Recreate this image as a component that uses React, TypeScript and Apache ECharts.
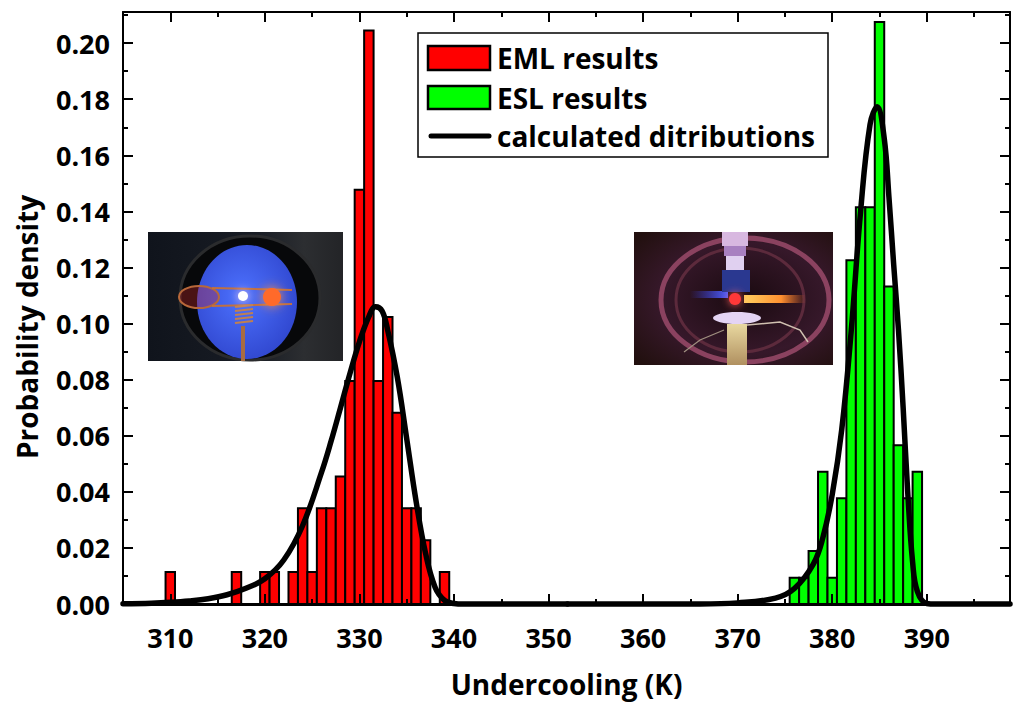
import React, { useEffect, useRef } from "react";
import * as echarts from "echarts";

// ---- axis ticks ----
const xTickValues = [310, 320, 330, 340, 350, 360, 370, 380, 390];
const xMinorTickValues = [315, 325, 335, 345, 355, 365, 375, 385, 395];
const yTickValues = [0, 0.02, 0.04, 0.06, 0.08, 0.1, 0.12, 0.14, 0.16, 0.18, 0.2];
const yMinorTickValues = [0.01, 0.03, 0.05, 0.07, 0.09, 0.11, 0.13, 0.15, 0.17, 0.19, 0.21];

// ---- EML histogram (bin centres, K) ----
const emlBins = [310, 317, 320, 321, 323, 324, 325, 326, 327, 328, 329, 330, 331, 332, 333, 334, 335, 336, 337, 339];
const emlDensity = [0.0114, 0.0114, 0.0114, 0.0114, 0.0114, 0.0341, 0.0114, 0.0341, 0.0341, 0.0455, 0.0795, 0.1477, 0.2045, 0.0795, 0.1023, 0.0682, 0.0341, 0.0341, 0.0227, 0.0114];

// ---- ESL histogram ----
const eslBins = [376, 377, 378, 379, 380, 381, 382, 383, 384, 385, 386, 387, 388, 389];
const eslDensity = [0.0094, 0.0094, 0.0189, 0.0472, 0.0094, 0.0377, 0.1226, 0.1415, 0.1415, 0.2075, 0.1132, 0.0566, 0.0377, 0.0472];

// ---- calculated distributions ----
const emlCurveX = [305, 308, 310, 312, 314, 316, 318, 320, 322, 324, 326, 327, 328, 329, 330, 331, 331.7, 332.4, 333, 334, 335, 336, 337, 338, 339, 340, 341, 352];
const emlCurveY = [0.0001, 0.0003, 0.0006, 0.0011, 0.0019, 0.0033, 0.0056, 0.009, 0.0157, 0.028, 0.047, 0.058, 0.07, 0.0822, 0.0935, 0.1025, 0.106, 0.1045, 0.0975, 0.081, 0.059, 0.0365, 0.018, 0.006, 0.0013, 0.0002, 0, 0];
const eslCurveX = [352, 366, 370, 374, 376, 378, 379, 380, 381, 382, 383, 384, 384.75, 385.5, 386, 386.5, 387, 387.5, 388, 388.5, 389, 390, 391, 398.8];
const eslCurveY = [0, 0, 0.0004, 0.0021, 0.0055, 0.0142, 0.0235, 0.039, 0.062, 0.097, 0.14, 0.171, 0.1773, 0.166, 0.145, 0.121, 0.098, 0.07, 0.039, 0.015, 0.0045, 0.0002, 0, 0];

const FONT = "'Open Sans', 'Noto Sans', sans-serif";

function barSeries(name: string, bins: number[], dens: number[], color: string) {
  return {
    name,
    type: "custom",
    z: 2,
    xAxisIndex: 0,
    yAxisIndex: 0,
    data: bins.map((b, i) => [b, dens[i]]),
    renderItem: (_p: any, api: any) => {
      const x = api.value(0);
      const y = api.value(1);
      const p0 = api.coord([x - 0.5, y]);
      const p1 = api.coord([x + 0.5, 0]);
      return {
        type: "rect",
        shape: { x: p0[0], y: p0[1], width: p1[0] - p0[0], height: p1[1] - p0[1] },
        style: { fill: color, stroke: "#000", lineWidth: 2 },
      };
    },
  };
}

function curveSeries(name: string, xs: number[], ys: number[]) {
  return {
    name,
    type: "line",
    z: 4,
    xAxisIndex: 0,
    yAxisIndex: 0,
    data: xs.map((x, i) => [x, ys[i]]),
    symbol: "none",
    smooth: 0.4,
    clip: false,
    lineStyle: { color: "#000", width: 5.5, cap: "round", join: "round" },
  };
}

function xAxisDef(pos: string, ticks: number[], len: number, line: boolean, labels: boolean, lw: number) {
  return {
    type: "value",
    position: pos,
    min: 305,
    max: 398.8,
    z: 3,
    axisLine: { show: line, onZero: false, lineStyle: { color: "#000", width: lw } },
    axisTick: { show: true, inside: true, length: len, customValues: ticks, lineStyle: { color: "#000", width: 2 } },
    axisLabel: labels
      ? { show: true, customValues: ticks, margin: 20, color: "#000", fontSize: 27, fontWeight: "bold", fontFamily: FONT }
      : { show: false },
    splitLine: { show: false },
  };
}

function yAxisDef(pos: string, ticks: number[], len: number, line: boolean, labels: boolean) {
  return {
    type: "value",
    position: pos,
    min: 0,
    max: 0.2111,
    z: 3,
    axisLine: { show: line, onZero: false, lineStyle: { color: "#000", width: 2 } },
    axisTick: { show: true, inside: true, length: len, customValues: ticks, lineStyle: { color: "#000", width: 2 } },
    axisLabel: labels
      ? {
          show: true,
          customValues: ticks,
          margin: 13,
          color: "#000",
          fontSize: 27,
          fontWeight: "bold",
          fontFamily: FONT,
          formatter: (v: number) => v.toFixed(2),
        }
      : { show: false },
    splitLine: { show: false },
  };
}

function legendGraphics() {
  const txt = (t: string, y: number) => ({
    type: "text",
    x: 497,
    y,
    style: { text: t, fill: "#000", font: `bold 28px ${FONT}`, verticalAlign: "middle", align: "left" },
  });
  return [
    { type: "rect", shape: { x: 418, y: 33, width: 410, height: 124 }, style: { fill: "#fff", stroke: "#000", lineWidth: 1.5 } },
    { type: "rect", shape: { x: 428, y: 46, width: 62, height: 24 }, style: { fill: "#ff0000", stroke: "#000", lineWidth: 2.5 } },
    txt("EML results", 58),
    { type: "rect", shape: { x: 428, y: 86, width: 62, height: 23 }, style: { fill: "#00ff00", stroke: "#000", lineWidth: 2.5 } },
    txt("ESL results", 98),
    { type: "line", shape: { x1: 431, y1: 136, x2: 489, y2: 136 }, style: { stroke: "#000", lineWidth: 5, lineCap: "round" } },
    txt("calculated ditributions", 136),
  ];
}

function yTitle() {
  return [
    {
      type: "text",
      x: 27,
      y: 327,
      rotation: Math.PI / 2,
      style: { text: "Probability density", fill: "#000", font: `bold 28px ${FONT}`, align: "center", verticalAlign: "middle" },
    },
  ];
}

function emlPhoto() {
  const L = echarts.graphic.LinearGradient as any;
  const R = echarts.graphic.RadialGradient as any;
  const coil = [];
  for (let i = 0; i < 5; i++) {
    coil.push({ type: "line", shape: { x1: 235, y1: 307 + i * 4, x2: 253, y2: 305 + i * 4 }, style: { stroke: "#c08050", lineWidth: 2 } });
  }
  return [
    {
      type: "rect",
      shape: { x: 148, y: 232, width: 195, height: 129 },
      style: {
        fill: new L(0, 0, 1, 0, [
          { offset: 0, color: "#10141c" },
          { offset: 0.55, color: "#181c24" },
          { offset: 0.8, color: "#2c2e31" },
          { offset: 1, color: "#232427" },
        ]),
      },
    },
    { type: "ellipse", shape: { cx: 250, cy: 298, rx: 70, ry: 62 }, style: { fill: "#07080a", stroke: "#2a2b2d", lineWidth: 3 } },
    {
      type: "ellipse",
      shape: { cx: 247, cy: 302, rx: 50, ry: 57 },
      style: {
        fill: new R(0.45, 0.45, 0.7, [
          { offset: 0, color: "#4d72ff" },
          { offset: 1, color: "#2b3fc6" },
        ]),
      },
    },
    { type: "ellipse", shape: { cx: 199, cy: 297, rx: 20, ry: 11 }, style: { fill: "rgba(200,40,40,0.35)", stroke: "#b8683a", lineWidth: 2 } },
    { type: "line", shape: { x1: 212, y1: 288, x2: 292, y2: 290 }, style: { stroke: "#c07040", lineWidth: 2 } },
    { type: "line", shape: { x1: 212, y1: 306, x2: 292, y2: 304 }, style: { stroke: "#c07040", lineWidth: 2 } },
    ...coil,
    { type: "line", shape: { x1: 243, y1: 326, x2: 243, y2: 361 }, style: { stroke: "#a86c42", lineWidth: 4 } },
    { type: "circle", shape: { cx: 272, cy: 297, r: 9 }, style: { fill: "#ff6a2a", shadowBlur: 12, shadowColor: "#ff9040" } },
    { type: "circle", shape: { cx: 243, cy: 296, r: 5 }, style: { fill: "#ffffff", shadowBlur: 10, shadowColor: "#ffd0e0" } },
  ];
}

function eslPhoto() {
  const L = echarts.graphic.LinearGradient as any;
  const R = echarts.graphic.RadialGradient as any;
  return [
    {
      type: "rect",
      shape: { x: 634, y: 232, width: 199, height: 133 },
      style: {
        fill: new R(0.55, 0.5, 0.7, [
          { offset: 0, color: "#1a0a10" },
          { offset: 0.6, color: "#36182a" },
          { offset: 1, color: "#22100f" },
        ]),
      },
    },
    { type: "ellipse", shape: { cx: 745, cy: 300, rx: 84, ry: 62 }, style: { fill: "none", stroke: "#9a4a6a", lineWidth: 5, opacity: 0.85 } },
    { type: "ellipse", shape: { cx: 740, cy: 300, rx: 64, ry: 52 }, style: { fill: "none", stroke: "#5c2a3c", lineWidth: 3 } },
    { type: "rect", shape: { x: 690, y: 291, width: 38, height: 7 }, style: { fill: new L(0, 0, 1, 0, [{ offset: 0, color: "rgba(60,70,255,0)" }, { offset: 1, color: "#5060ff" }]) } },
    { type: "rect", shape: { x: 744, y: 295, width: 62, height: 8 }, style: { fill: new L(0, 0, 1, 0, [{ offset: 0, color: "#ffd060" }, { offset: 0.6, color: "#ff9030" }, { offset: 1, color: "rgba(255,120,40,0)" }]) } },
    { type: "rect", shape: { x: 722, y: 232, width: 26, height: 14 }, style: { fill: "#d8b8e0" } },
    { type: "rect", shape: { x: 724, y: 246, width: 22, height: 10 }, style: { fill: "#a880c0" } },
    { type: "rect", shape: { x: 726, y: 256, width: 18, height: 14 }, style: { fill: "#e0d0f0" } },
    { type: "rect", shape: { x: 722, y: 270, width: 28, height: 22 }, style: { fill: "#2a3890" } },
    { type: "circle", shape: { cx: 735, cy: 299, r: 6 }, style: { fill: "#ff3838", shadowBlur: 8, shadowColor: "#ff6060" } },
    { type: "ellipse", shape: { cx: 737, cy: 318, rx: 24, ry: 6 }, style: { fill: "#e4d4f4" } },
    { type: "rect", shape: { x: 727, y: 324, width: 20, height: 41 }, style: { fill: new L(0, 0, 0, 1, [{ offset: 0, color: "#e8d8a0" }, { offset: 1, color: "#b09060" }]) } },
    { type: "polyline", shape: { points: [[747, 325], [780, 322], [800, 330], [808, 342]] }, style: { fill: "none", stroke: "#d0c0b0", lineWidth: 1.5 } },
    { type: "polyline", shape: { points: [[724, 330], [700, 340], [684, 352]] }, style: { fill: "none", stroke: "#a09080", lineWidth: 1.2 } },
  ];
}

export default function App() {
  const ref = useRef<HTMLDivElement>(null);
  useEffect(() => {
    if (!ref.current) return;
    const chart = echarts.init(ref.current, undefined, { renderer: "svg" });
    chart.setOption({
      animation: false,
      backgroundColor: "#fff",
      grid: { left: 123, right: 14, top: 12, bottom: 103, containLabel: false },
      xAxis: [
        {
          ...xAxisDef("bottom", xTickValues, 10, true, true, 3),
          name: "Undercooling (K)",
          nameLocation: "middle",
          nameGap: 66,
          nameTextStyle: { color: "#000", fontSize: 28, fontWeight: "bold", fontFamily: FONT },
        },
        xAxisDef("bottom", xMinorTickValues, 5, false, false, 3),
        xAxisDef("top", xTickValues, 10, true, false, 2),
        xAxisDef("top", xMinorTickValues, 5, false, false, 2),
      ],
      yAxis: [
        yAxisDef("left", yTickValues, 10, true, true),
        yAxisDef("left", yMinorTickValues, 5, false, false),
        yAxisDef("right", yTickValues, 10, true, false),
        yAxisDef("right", yMinorTickValues, 5, false, false),
      ],
      series: [
        barSeries("EML results", emlBins, emlDensity, "#ff0000"),
        barSeries("ESL results", eslBins, eslDensity, "#00ff00"),
        curveSeries("EML calculated", emlCurveX, emlCurveY),
        curveSeries("ESL calculated", eslCurveX, eslCurveY),
      ],
      graphic: [...emlPhoto(), ...eslPhoto(), ...legendGraphics(), ...yTitle()].map((g: any) => ({ ...g, z: 20 })),
    });
    return () => chart.dispose();
  }, []);
  return (
    <div
      ref={ref}
      style={{ position: "fixed", left: 0, top: 0, width: 1024, height: 707, background: "#fff" }}
    />
  );
}
